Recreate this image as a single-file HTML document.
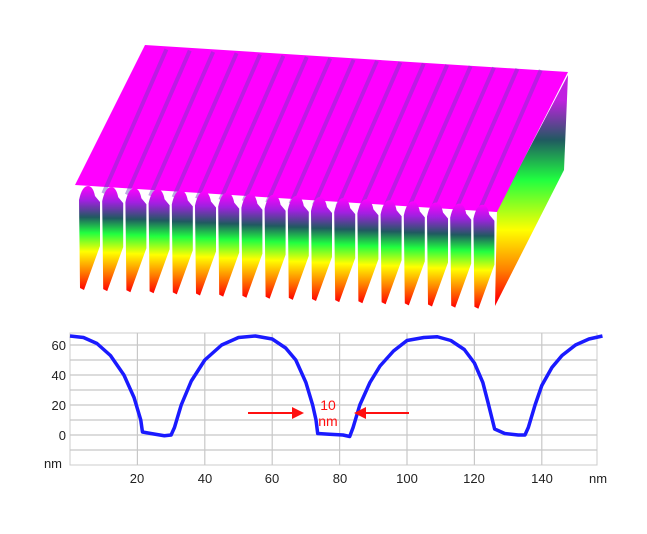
<!DOCTYPE html>
<html><head><style>
body{margin:0;background:#fff;}
svg text{font-family:"Liberation Sans",sans-serif;}
</style></head><body>
<svg width="647" height="529" viewBox="0 0 647 529" xmlns="http://www.w3.org/2000/svg" xmlns:xlink="http://www.w3.org/1999/xlink">
<defs>
<linearGradient id="fg" x1="0" y1="0" x2="0" y2="1">
<stop offset="0" stop-color="#ff00ff"/>
<stop offset="0.14" stop-color="#a020e0"/>
<stop offset="0.3" stop-color="#205a60"/>
<stop offset="0.45" stop-color="#20ff40"/>
<stop offset="0.63" stop-color="#ffff00"/>
<stop offset="0.82" stop-color="#ff8000"/>
<stop offset="1" stop-color="#ff0000"/>
</linearGradient>
<linearGradient id="rg" x1="0" y1="100" x2="0" y2="300" gradientUnits="userSpaceOnUse">
<stop offset="0" stop-color="#c020e0"/>
<stop offset="0.2" stop-color="#205a60"/>
<stop offset="0.4" stop-color="#20ff40"/>
<stop offset="0.65" stop-color="#ffff00"/>
<stop offset="0.85" stop-color="#ff8000"/>
<stop offset="1" stop-color="#ff0000"/>
</linearGradient>
<path id="tooth" d="M0,12 Q3,-2 9,-2 Q14,-2 16,8 L21,14 L21,58 L5,102 L1,100 Z" fill="url(#fg)"/>
<line id="rid" x1="143" y1="48" x2="80" y2="192" stroke="#6a40c0" stroke-width="4" opacity="0.45"/>
</defs>
<polygon points="497,210 568,75 564,170 495,306" fill="url(#rg)"/>
<polygon points="75,185 145,45 568,72 497,212" fill="#ff00ff"/>
<g>
<use xlink:href="#rid" transform="translate(23.4,1.3)"/>
<use xlink:href="#rid" transform="translate(46.8,2.6)"/>
<use xlink:href="#rid" transform="translate(70.2,3.9)"/>
<use xlink:href="#rid" transform="translate(93.6,5.2)"/>
<use xlink:href="#rid" transform="translate(117,6.5)"/>
<use xlink:href="#rid" transform="translate(140.4,7.8)"/>
<use xlink:href="#rid" transform="translate(163.8,9.1)"/>
<use xlink:href="#rid" transform="translate(187.2,10.4)"/>
<use xlink:href="#rid" transform="translate(210.6,11.7)"/>
<use xlink:href="#rid" transform="translate(234,13)"/>
<use xlink:href="#rid" transform="translate(257.4,14.3)"/>
<use xlink:href="#rid" transform="translate(280.8,15.6)"/>
<use xlink:href="#rid" transform="translate(304.2,16.9)"/>
<use xlink:href="#rid" transform="translate(327.6,18.2)"/>
<use xlink:href="#rid" transform="translate(351,19.5)"/>
<use xlink:href="#rid" transform="translate(374.4,20.8)"/>
<use xlink:href="#rid" transform="translate(397.8,22.1)"/>
</g>
<g>
<use xlink:href="#tooth" transform="translate(79,188)"/>
<use xlink:href="#tooth" transform="translate(102.2,189.1)"/>
<use xlink:href="#tooth" transform="translate(125.4,190.2)"/>
<use xlink:href="#tooth" transform="translate(148.6,191.3)"/>
<use xlink:href="#tooth" transform="translate(171.8,192.4)"/>
<use xlink:href="#tooth" transform="translate(195,193.5)"/>
<use xlink:href="#tooth" transform="translate(218.2,194.6)"/>
<use xlink:href="#tooth" transform="translate(241.4,195.7)"/>
<use xlink:href="#tooth" transform="translate(264.6,196.8)"/>
<use xlink:href="#tooth" transform="translate(287.8,197.9)"/>
<use xlink:href="#tooth" transform="translate(311,199)"/>
<use xlink:href="#tooth" transform="translate(334.2,200.1)"/>
<use xlink:href="#tooth" transform="translate(357.4,201.2)"/>
<use xlink:href="#tooth" transform="translate(380.6,202.3)"/>
<use xlink:href="#tooth" transform="translate(403.8,203.4)"/>
<use xlink:href="#tooth" transform="translate(427,204.5)"/>
<use xlink:href="#tooth" transform="translate(450.2,205.6)"/>
<use xlink:href="#tooth" transform="translate(473.4,206.7)"/>
</g>

<rect x="70" y="333" width="527" height="132" fill="#fff" stroke="#ccc"/>
<g stroke="#c8c8c8" stroke-width="1.2">
<line x1="70" y1="345" x2="597" y2="345"/><line x1="70" y1="360" x2="597" y2="360"/>
<line x1="70" y1="375" x2="597" y2="375"/><line x1="70" y1="390" x2="597" y2="390"/>
<line x1="70" y1="405" x2="597" y2="405"/><line x1="70" y1="420" x2="597" y2="420"/>
<line x1="70" y1="435" x2="597" y2="435"/><line x1="70" y1="450" x2="597" y2="450"/>
<line x1="137.4" y1="333" x2="137.4" y2="465"/><line x1="204.8" y1="333" x2="204.8" y2="465"/>
<line x1="272.2" y1="333" x2="272.2" y2="465"/><line x1="339.6" y1="333" x2="339.6" y2="465"/>
<line x1="407" y1="333" x2="407" y2="465"/><line x1="474.4" y1="333" x2="474.4" y2="465"/>
<line x1="541.8" y1="333" x2="541.8" y2="465"/>
</g>
<polyline transform="translate(70,435) scale(3.37,-1.5)" vector-effect="non-scaling-stroke" fill="none" stroke="#1a1aff" stroke-width="3.5" stroke-linejoin="round"
points="0,66 4,65 8,61 12,53 16,40 19,25 21,10 21.5,2 24,1 28,-0.5 30,0 31,5 33,20 36,36 40,50 45,60 50,65 55,66 60,64 64,58 67,50 70,35 72,20 73,10 73.5,1 77,0.5 81,0 83,-1 84,5 86,20 89,35 92,46 96,56 100,63 105,65 109,65.5 113,63 117,57 120,48 122.5,35 124,22 126,4 129,1 133,0 135,0 136,5 138,20 140,33 143,45 146,53 150,60 154,64 158,66"/>
<g font-size="13" fill="#222" text-anchor="end">
<text x="66" y="350">60</text><text x="66" y="380">40</text><text x="66" y="410">20</text><text x="66" y="440">0</text><text x="62" y="468">nm</text>
</g>
<g font-size="13" fill="#222" text-anchor="middle">
<text x="137" y="483">20</text><text x="205" y="483">40</text><text x="272" y="483">60</text><text x="340" y="483">80</text><text x="407" y="483">100</text><text x="474" y="483">120</text><text x="542" y="483">140</text><text x="598" y="483">nm</text>
</g>
<g stroke="#ff1010" stroke-width="2" fill="#ff1010">
<line x1="248" y1="413" x2="292" y2="413"/><polygon points="292,407 304,413 292,419" stroke="none"/>
<line x1="366" y1="413" x2="409" y2="413"/><polygon points="366,407 354,413 366,419" stroke="none"/>
</g>
<g font-size="14" fill="#ff1010" text-anchor="middle">
<text x="328" y="410">10</text><text x="328" y="426">nm</text>
</g>
</svg>
</body></html>
